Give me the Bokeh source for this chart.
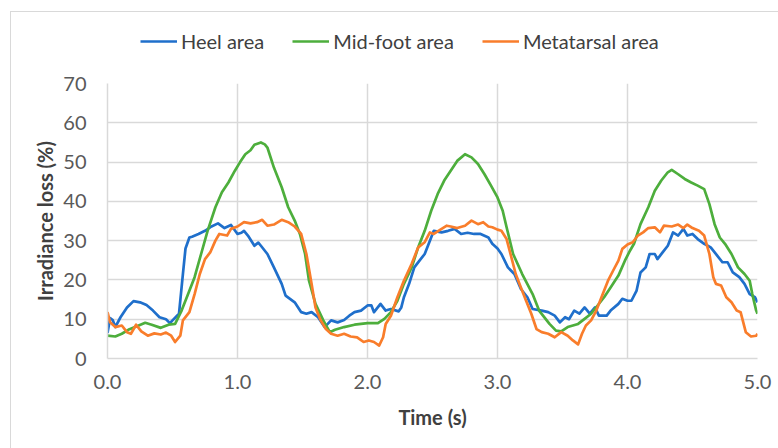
from bokeh.plotting import figure
from bokeh.models import Legend, LegendItem, FixedTicker
from bokeh.layouts import column
from bokeh.embed import file_html
from bokeh.resources import INLINE

# ---- data ----
heel_t = [0.00, 0.02, 0.04, 0.06, 0.10, 0.15, 0.20, 0.25, 0.30, 0.35, 0.40, 0.45, 0.48, 0.50, 0.55, 0.58,
          0.60, 0.63, 0.65, 0.70, 0.75, 0.80, 0.85, 0.90, 0.95, 1.00, 1.03, 1.05, 1.08, 1.13, 1.16, 1.18,
          1.23, 1.28, 1.34, 1.37, 1.44, 1.49, 1.53, 1.57, 1.62, 1.67, 1.72, 1.77, 1.82, 1.86, 1.90, 1.95,
          2.00, 2.03, 2.05, 2.10, 2.14, 2.18, 2.24, 2.26, 2.28, 2.32, 2.36, 2.40, 2.44, 2.48, 2.51, 2.57,
          2.62, 2.67, 2.72, 2.77, 2.82, 2.87, 2.93, 2.96, 3.00, 3.03, 3.08, 3.13, 3.18, 3.23, 3.27, 3.34,
          3.39, 3.44, 3.48, 3.52, 3.55, 3.59, 3.63, 3.67, 3.71, 3.75, 3.78, 3.84, 3.87, 3.93, 3.96, 4.00,
          4.03, 4.07, 4.10, 4.14, 4.17, 4.21, 4.23, 4.27, 4.31, 4.35, 4.39, 4.43, 4.46, 4.50, 4.54, 4.59,
          4.64, 4.69, 4.73, 4.77, 4.81, 4.86, 4.90, 4.94, 4.98, 5.00]
heel_v = [6.5, 10.3, 9.8, 8.0, 10.5, 13.0, 14.6, 14.3, 13.6, 12.2, 10.5, 10.0, 9.0, 9.7, 11.4, 21.5,
          28.0, 30.8, 31.0, 31.7, 32.5, 33.6, 34.4, 33.2, 34.0, 31.7, 32.0, 32.5, 31.3, 28.7, 29.5, 28.7,
          26.6, 23.2, 19.0, 16.0, 14.3, 11.8, 11.4, 11.8, 10.5, 8.0, 9.7, 9.2, 9.8, 10.9, 11.8, 12.2,
          13.5, 13.5, 11.8, 13.9, 12.2, 12.6, 12.0, 13.0, 15.6, 19.0, 23.2, 24.9, 26.6, 30.0, 32.5, 32.1,
          32.5, 33.0, 31.7, 32.0, 31.7, 31.7, 30.8, 29.2, 28.0, 26.6, 23.2, 21.5, 17.7, 15.6, 12.6, 12.2,
          11.8, 10.9, 9.2, 10.5, 10.0, 12.2, 11.4, 13.0, 11.4, 13.0, 10.9, 10.9, 12.2, 13.9, 15.2, 14.7,
          14.7, 17.3, 21.9, 23.2, 26.6, 26.6, 25.3, 27.0, 28.7, 32.1, 31.3, 33.0, 31.3, 31.7, 30.4, 29.2,
          28.3, 26.2, 24.5, 24.5, 21.9, 20.7, 19.0, 16.4, 15.6, 14.3]

mid_t = [0.00, 0.06, 0.11, 0.16, 0.24, 0.29, 0.34, 0.41, 0.47, 0.52, 0.57, 0.62, 0.67, 0.72, 0.77, 0.83,
         0.88, 0.93, 0.98, 1.02, 1.06, 1.10, 1.13, 1.18, 1.21, 1.23, 1.28, 1.34, 1.39, 1.44, 1.48, 1.52,
         1.55, 1.60, 1.66, 1.71, 1.75, 1.82, 1.90, 2.00, 2.08, 2.13, 2.18, 2.23, 2.28, 2.34, 2.39, 2.44,
         2.49, 2.54, 2.59, 2.64, 2.69, 2.75, 2.80, 2.85, 2.90, 2.95, 3.00, 3.04, 3.07, 3.12, 3.19, 3.27,
         3.32, 3.40, 3.45, 3.49, 3.54, 3.62, 3.67, 3.72, 3.77, 3.82, 3.87, 3.93, 3.98, 4.02, 4.05, 4.10,
         4.16, 4.21, 4.26, 4.31, 4.34, 4.39, 4.44, 4.49, 4.54, 4.59, 4.63, 4.67, 4.71, 4.75, 4.80, 4.85,
         4.90, 4.94, 4.96, 4.99, 5.00]
mid_v = [5.8, 5.6, 6.3, 7.3, 8.4, 9.1, 8.6, 7.8, 8.6, 8.8, 12.2, 16.4, 20.7, 26.6, 32.5, 38.5,
         42.3, 44.8, 47.8, 50.0, 52.0, 53.0, 54.4, 55.0, 54.5, 53.7, 48.6, 43.6, 38.5, 35.1, 31.7, 26.6,
         19.8, 13.9, 9.7, 6.7, 7.3, 8.0, 8.6, 9.0, 9.0, 10.1, 11.8, 14.7, 19.0, 23.2, 28.3, 32.5,
         37.6, 41.9, 45.3, 47.8, 50.3, 52.0, 51.2, 49.5, 46.9, 44.0, 41.0, 37.6, 33.4, 26.6, 21.5, 16.4,
         12.2, 8.8, 7.1, 6.9, 8.0, 8.8, 10.1, 11.4, 13.5, 15.6, 18.1, 21.1, 24.9, 27.5, 29.2, 34.2,
         38.5, 42.7, 45.3, 47.4, 48.0, 46.9, 45.7, 44.8, 44.0, 43.1, 39.3, 34.2, 30.8, 29.2, 26.6, 23.2,
         21.5, 19.8, 16.4, 12.2, 11.4]

meta_t = [0.00, 0.02, 0.06, 0.11, 0.15, 0.18, 0.22, 0.26, 0.31, 0.36, 0.41, 0.45, 0.49, 0.52, 0.56, 0.58,
          0.63, 0.67, 0.71, 0.75, 0.79, 0.83, 0.86, 0.92, 0.95, 1.00, 1.05, 1.10, 1.15, 1.19, 1.23, 1.28,
          1.34, 1.39, 1.44, 1.49, 1.53, 1.57, 1.60, 1.64, 1.68, 1.72, 1.77, 1.82, 1.87, 1.92, 1.97, 2.01,
          2.05, 2.09, 2.12, 2.14, 2.18, 2.23, 2.28, 2.34, 2.39, 2.44, 2.48, 2.51, 2.57, 2.61, 2.64, 2.69,
          2.75, 2.80, 2.85, 2.89, 2.93, 2.96, 3.00, 3.03, 3.07, 3.10, 3.14, 3.18, 3.22, 3.26, 3.30, 3.34,
          3.39, 3.44, 3.49, 3.54, 3.58, 3.62, 3.65, 3.68, 3.72, 3.76, 3.80, 3.85, 3.89, 3.93, 3.96, 4.00,
          4.04, 4.08, 4.12, 4.16, 4.21, 4.25, 4.28, 4.34, 4.39, 4.43, 4.46, 4.50, 4.55, 4.59, 4.63, 4.66,
          4.68, 4.72, 4.76, 4.80, 4.84, 4.87, 4.91, 4.95, 4.99, 5.00]
meta_v = [11.8, 9.2, 8.0, 8.4, 6.7, 6.3, 8.6, 6.9, 5.8, 6.4, 6.1, 6.6, 5.8, 4.2, 5.8, 9.7,
          11.8, 16.4, 21.5, 25.3, 27.0, 30.0, 31.7, 31.3, 33.0, 33.6, 34.7, 34.4, 34.7, 35.3, 33.8, 34.1,
          35.3, 34.7, 33.6, 31.7, 26.6, 19.0, 13.0, 9.7, 7.5, 6.3, 5.8, 6.3, 5.6, 5.4, 4.2, 4.6,
          4.2, 3.3, 5.4, 8.8, 10.9, 15.6, 19.8, 24.1, 28.3, 29.6, 32.1, 31.7, 33.0, 33.8, 33.6, 33.2,
          33.8, 35.1, 34.2, 34.7, 33.6, 33.4, 32.8, 32.5, 30.4, 26.6, 21.5, 18.1, 14.7, 11.4, 7.5, 6.7,
          6.3, 5.4, 6.7, 5.8, 4.6, 3.6, 6.3, 8.4, 9.7, 12.2, 15.6, 19.8, 22.4, 24.9, 27.9, 29.0,
          29.6, 31.3, 32.1, 33.2, 33.4, 32.1, 33.8, 33.6, 34.1, 33.2, 34.1, 33.2, 32.5, 31.3, 26.6, 20.7,
          19.0, 18.6, 15.6, 14.3, 12.2, 11.8, 6.7, 5.6, 5.8, 6.3]

series_names = ["Heel area", "Mid-foot area", "Metatarsal area"]
series_colors = ["#1f6fcb", "#4dae3c", "#f97d2b"]
x_ticks = [0, 1, 2, 3, 4, 5]
x_tick_labels = ["0.0", "1.0", "2.0", "3.0", "4.0", "5.0"]
y_ticks = [0, 10, 20, 30, 40, 50, 60, 70]

FONT = "Lato"
LINE_W = 2.7
FS = "20px"

# ---- legend strip (separate figure above the chart) ----
leg = figure(width=778, height=71, x_range=(0, 1), y_range=(0, 1),
             x_axis_type=None, y_axis_type=None, output_backend="svg", toolbar_location=None,
             min_border=0)
leg.outline_line_color = None
leg.xgrid.visible = False
leg.ygrid.visible = False
leg.background_fill_alpha = 0
leg.border_fill_alpha = 0
# legend-only renderers: their points lie outside the visible range
leg_renderers = [leg.line([-5, -4], [-5, -4], line_color=c, line_width=LINE_W) for c in series_colors]
legend = Legend(items=[LegendItem(label=n, renderers=[r]) for n, r in zip(series_names, leg_renderers)],
                orientation="horizontal", location=(33, 18))
legend.border_line_color = None
legend.background_fill_alpha = 0
legend.padding = 0
legend.margin = 0
legend.spacing = 28
legend.glyph_width = 37
legend.label_standoff = 4
legend.label_text_font = FONT
legend.label_text_font_size = FS
legend.label_text_color = "#404040"
leg.add_layout(legend, "center")

# ---- main chart ----
p = figure(width=778, height=377, x_range=(0, 5), y_range=(0, 70),
           output_backend="svg", toolbar_location=None,
           min_border_left=107, min_border_right=21, min_border_top=12, min_border_bottom=90)
p.outline_line_color = None
p.background_fill_color = "white"
p.border_fill_alpha = 0

for t, v, c in zip([heel_t, mid_t, meta_t], [heel_v, mid_v, meta_v], series_colors):
    p.line(t, v, line_color=c, line_width=LINE_W, line_join="round")

p.xaxis.ticker = FixedTicker(ticks=x_ticks)
p.xaxis.major_label_overrides = {tk: lb for tk, lb in zip(x_ticks, x_tick_labels)}
p.yaxis.ticker = FixedTicker(ticks=y_ticks)
for ax in (p.xaxis, p.yaxis):
    ax.axis_line_color = "#d9d9d9"
    ax.axis_line_width = 1.5
    ax.major_tick_line_color = None
    ax.minor_tick_line_color = None
    ax.major_tick_out = 0
    ax.major_tick_in = 0
    ax.major_label_text_font = FONT
    ax.major_label_text_font_size = FS
    ax.major_label_text_color = "#595959"
    ax.axis_label_text_font = FONT
    ax.axis_label_text_font_size = FS
    ax.axis_label_text_font_style = "bold"
    ax.axis_label_text_color = "#404040"
p.yaxis.major_label_standoff = 21
p.xaxis.major_label_standoff = 16
p.yaxis.axis_label = "Irradiance loss (%)"
p.xaxis.axis_label = "Time (s)"
p.yaxis.axis_label_standoff = 3
p.xaxis.axis_label_standoff = 13

p.xgrid.grid_line_color = "#d9d9d9"
p.ygrid.grid_line_color = "#d9d9d9"
p.xgrid.grid_line_width = 1.5
p.ygrid.grid_line_width = 1.5

layout = column(leg, p, spacing=0)
layout.styles = {"background": "white",
                 "box-shadow": "inset 10px 11px 0 0 white, inset 11px 12px 0 0 #d9d9d9"}
open("out.html", "w").write(file_html(layout, INLINE))
